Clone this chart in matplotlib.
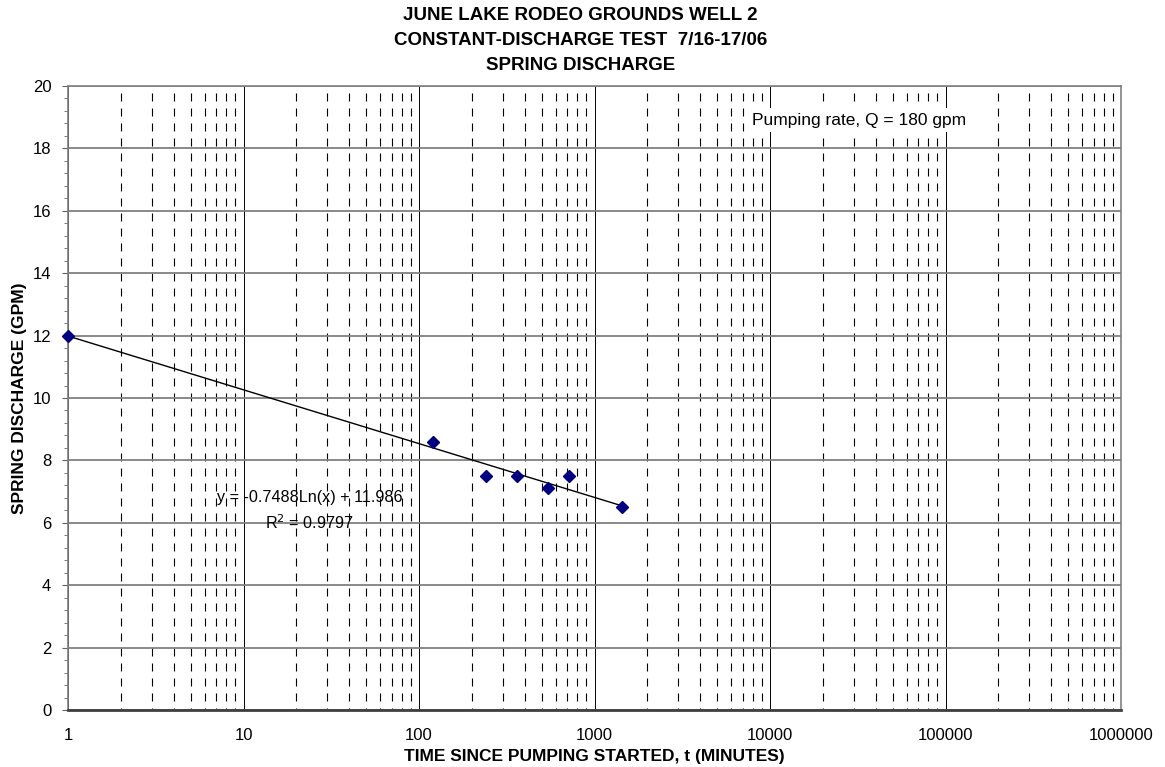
import matplotlib
matplotlib.use("Agg")
import matplotlib.pyplot as plt
import numpy as np
from matplotlib.ticker import FixedLocator, LogLocator, NullFormatter

plt.rcParams['font.family'] = ['Liberation Sans', 'DejaVu Sans']

time_min = [1, 120, 240, 360, 540, 720, 1440]
discharge_gpm = [12.0, 8.6, 7.5, 7.5, 7.1, 7.5, 6.5]
fit_slope = -0.7488
fit_intercept = 11.986
x_ticks = [1, 10, 100, 1000, 10000, 100000, 1000000]
x_ticklabels = ['1', '10', '100', '1000', '10000', '100000', '1000000']
y_ticks = [0, 2, 4, 6, 8, 10, 12, 14, 16, 18, 20]

fig = plt.figure(figsize=(11.65, 7.67), dpi=100)
W, H = 1165, 767
left, right, top, bottom = 68, 1121, 86, 710
ax = fig.add_axes([left / W, 1 - bottom / H, (right - left) / W, (bottom - top) / H])

ax.set_xscale('log')
ax.set_xlim(1, 1e6)
ax.set_ylim(0, 20)

ax.xaxis.set_major_locator(FixedLocator(x_ticks))
ax.set_xticklabels(x_ticklabels)
ax.xaxis.set_minor_locator(LogLocator(base=10, subs=np.arange(2, 10), numticks=100))
ax.xaxis.set_minor_formatter(NullFormatter())
ax.yaxis.set_major_locator(FixedLocator(y_ticks))
ax.yaxis.set_minor_locator(FixedLocator(np.arange(0, 20.01, 0.4)))

px = 0.72  # points per pixel at 100 dpi
mlw = 0.8
ax.grid(True, which='major', axis='y', color='#808080', lw=1.3)
ax.grid(True, which='major', axis='x', color='black', lw=0.7)
ax.grid(True, which='minor', axis='x', color='black', lw=mlw,
        linestyle=(6 * px / mlw, (8 * px / mlw, 7 * px / mlw)))
ax.set_axisbelow(True)

for s in ax.spines.values():
    s.set_color('#808080')
    s.set_linewidth(1.2)
ax.spines['bottom'].set_color('#404040')
ax.spines['bottom'].set_linewidth(2.0)

ax.tick_params(axis='y', which='major', direction='out', length=4, color='#606060', labelsize=12, pad=8)
ax.tick_params(axis='y', which='minor', direction='out', length=3, color='#606060')
ax.tick_params(axis='x', which='both', length=0, labelsize=12, pad=13)

xf = np.logspace(0, np.log10(time_min[-1]), 200)
ax.plot(xf, fit_slope * np.log(xf) + fit_intercept, color='black', lw=1.0, zorder=3)

ax.plot(time_min, discharge_gpm, linestyle='none', marker='D', color='#000080',
        markersize=6.5, zorder=4, clip_on=False)

ax.text(0.2293, 0.341, 'y = -0.7488Ln(x) + 11.986', transform=ax.transAxes,
        ha='center', va='center', fontsize=11.6)
ax.text(0.2293, 0.300, 'R$^2$ = 0.9797', transform=ax.transAxes,
        ha='center', va='center', fontsize=11.6)

ax.text((752 - left) / (right - left), (bottom - 120) / (bottom - top),
        'Pumping rate, Q = 180 gpm', transform=ax.transAxes,
        ha='left', va='center', fontsize=12.5,
        bbox=dict(facecolor='white', edgecolor='none', pad=3))

fig.text((403 + 758) / 2 / W, 1 - 7 / H,
         'JUNE LAKE RODEO GROUNDS WELL 2\nCONSTANT-DISCHARGE TEST  7/16-17/06\nSPRING DISCHARGE',
         ha='center', va='top', fontsize=13.5, fontweight='bold', linespacing=1.6)

ax.set_xlabel('TIME SINCE PUMPING STARTED, t (MINUTES)', fontsize=12.5, fontweight='bold', labelpad=4)
ax.set_ylabel('SPRING DISCHARGE (GPM)', fontsize=12.5, fontweight='bold', labelpad=4)

fig.savefig('out.png', dpi=100)
